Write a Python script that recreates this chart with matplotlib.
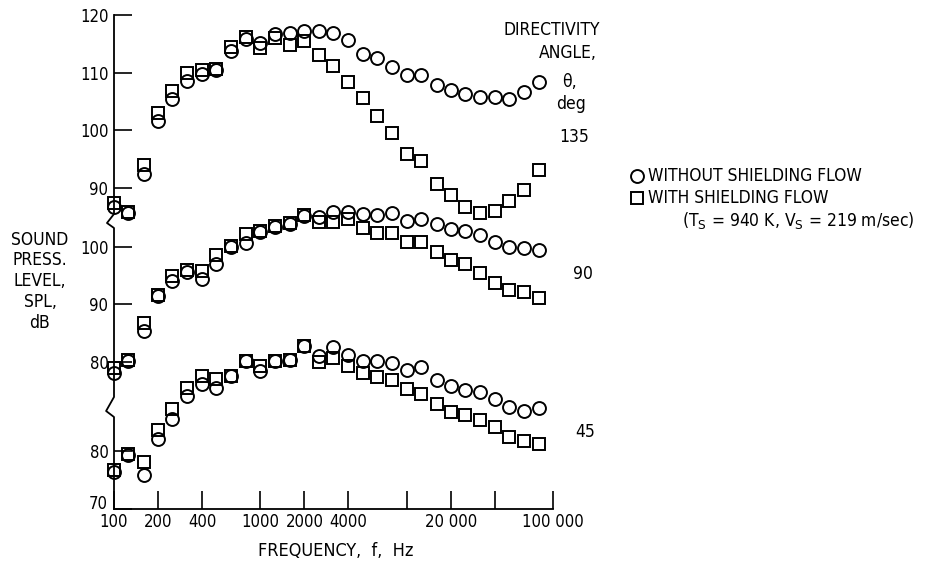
import numpy as np
import matplotlib.pyplot as plt
from matplotlib.lines import Line2D
from matplotlib.ticker import FixedLocator, FixedFormatter, NullLocator
import matplotlib.transforms as mtransforms

# one-third octave band centre frequencies, Hz
freq = [100, 125, 160, 200, 250, 315, 400, 500, 630, 800, 1000, 1250, 1600,
        2000, 2500, 3150, 4000, 5000, 6300, 8000, 10000, 12500, 16000, 20000,
        25000, 31500, 40000, 50000, 63000, 80000]

# SPL, dB, directivity angle 135 deg
spl135_without = [86.7, 85.5, 92.4, 101.5, 105.4, 108.6, 109.8, 110.5, 113.7, 115.9,
                  115.2, 116.7, 116.8, 117.3, 117.3, 116.8, 115.7, 113.3, 112.5, 110.9,
                  109.6, 109.6, 107.9, 107.0, 106.2, 105.7, 105.7, 105.4, 106.6, 108.3]
spl135_with = [87.3, 85.8, 93.9, 102.9, 106.8, 109.9, 110.4, 110.7, 114.4, 116.1,
               114.3, 116.0, 114.8, 115.5, 113.1, 111.2, 108.3, 105.5, 102.5, 99.5,
               95.9, 94.7, 90.6, 88.7, 86.7, 85.5, 86.0, 87.7, 89.6, 93.0]

# 90 deg
spl90_without = [78.1, 80.1, 85.3, 91.5, 94.1, 95.7, 94.5, 97.1, 100.0, 100.7,
                 102.6, 103.5, 104.0, 105.3, 105.2, 106.1, 106.1, 105.7, 105.5, 105.9,
                 104.5, 104.8, 103.9, 103.1, 102.7, 102.1, 100.8, 100.0, 99.8, 99.5]
spl90_with = [79.0, 80.3, 86.7, 91.7, 95.0, 95.9, 95.8, 98.5, 100.2, 102.3,
              102.8, 103.7, 104.2, 105.5, 104.3, 104.4, 104.8, 103.3, 102.4, 102.4,
              100.8, 100.9, 99.1, 97.7, 97.1, 95.5, 93.7, 92.5, 92.1, 91.1]

# 45 deg
spl45_without = [76.5, 79.4, 75.9, 82.2, 85.7, 89.6, 91.7, 91.0, 93.2, 95.7,
                 93.9, 95.7, 95.9, 98.3, 96.6, 98.2, 96.8, 95.7, 95.8, 95.3,
                 94.1, 94.7, 92.5, 91.4, 90.6, 90.3, 89.1, 87.7, 87.0, 87.5]
spl45_with = [76.7, 79.6, 78.2, 83.7, 87.4, 91.1, 93.2, 92.6, 93.2, 95.7,
              94.8, 95.7, 95.9, 98.3, 95.6, 96.2, 94.8, 93.7, 93.0, 92.5,
              90.9, 90.0, 88.2, 86.8, 86.3, 85.5, 84.3, 82.5, 81.9, 81.3]

# vertical shift of each curve on the shared (broken) axis
offsets = {135: 0.0, 90: -20.3, 45: -35.86}

xticks = [100, 200, 400, 1000, 2000, 4000, 10000, 20000, 40000, 100000]
xticklabels = ['100', '200', '400', '1000', '2000', '4000', '', '20 000', '', '100 000']

ytick_groups = [(135, [120, 110, 100, 90]), (90, [100, 90, 80]), (45, [80, 70])]

W, H = 929, 567
FONT = dict(family='DejaVu Sans', stretch='condensed')


def fx(px):
    return px / W


def fy(py):
    return 1 - py / H


fig = plt.figure(figsize=(W / 100, H / 100), dpi=100)
ax = fig.add_axes([fx(114), fy(509), 439 / W, 494 / H])

ms_c, ms_s, mew = 9.3, 8.6, 1.4
series = [(135, spl135_without, spl135_with),
          (90, spl90_without, spl90_with),
          (45, spl45_without, spl45_with)]
for ang, wo, wi in series:
    off = offsets[ang]
    ax.plot(freq, np.array(wo) + off, ls='none', marker='o', ms=ms_c, mfc='none',
            mec='k', mew=mew, clip_on=False, zorder=3)
    ax.plot(freq, np.array(wi) + off, ls='none', marker='s', ms=ms_s, mfc='none',
            mec='k', mew=mew, clip_on=False, zorder=3)

ax.set_xscale('log')
ax.set_xlim(100, 100000)
ax.set_ylim(70 + offsets[45], 120)

ax.xaxis.set_major_locator(FixedLocator(xticks))
ax.xaxis.set_major_formatter(FixedFormatter(xticklabels))
ax.xaxis.set_minor_locator(NullLocator())

# the bottom "70" is written separately, a little raised, so it clears the "100"
ypos, ylab = [], []
for ang, vals in ytick_groups:
    for v in vals:
        ypos.append(v + offsets[ang])
        ylab.append(str(v) if not (ang == 45 and v == 70) else '')
ax.set_yticks(ypos)
ax.set_yticklabels(ylab)

ax.tick_params(axis='both', direction='in', length=13, width=1.2, color='k')
ax.tick_params(axis='y', pad=4)
ax.tick_params(axis='x', pad=3)
for lab in ax.get_xticklabels() + ax.get_yticklabels():
    lab.set_fontfamily('DejaVu Sans')
    lab.set_fontstretch('condensed')
    lab.set_fontsize(12)

for s in ['top', 'right', 'left']:
    ax.spines[s].set_visible(False)
ax.spines['bottom'].set_linewidth(1.3)

trans = mtransforms.blended_transform_factory(ax.transAxes, ax.transData)
ax.annotate('70', xy=(0, 70 + offsets[45]), xycoords=trans, xytext=(-6, 5),
            textcoords='offset pixels', ha='right', va='center', fontsize=12, **FONT)


# left axis line with the two break marks
def py2data(py):
    return 120 - (py - 15) / (494 / (120 - 70 - offsets[45]))


zx = [0, 0, -0.016, 0, 0, -0.018, 0, 0]
zy = [120, py2data(214), py2data(223), py2data(228),
      py2data(397), py2data(411), py2data(417), 70 + offsets[45]]
ax.plot(zx, zy, color='k', lw=1.3, transform=trans, clip_on=False, zorder=2)

# y label
for txt, yy in [('SOUND', 240), ('PRESS.', 260), ('LEVEL,', 281), ('SPL,', 302), ('dB', 323)]:
    fig.text(fx(40), fy(yy), txt, ha='center', va='center', fontsize=12.5, **FONT)

# x label
fig.text(fx(336), fy(551), 'FREQUENCY,  f,  Hz', ha='center', va='center',
         fontsize=13, **FONT)

# directivity angle block
fig.text(fx(600), fy(35), 'DIRECTIVITY', ha='right', va='baseline', fontsize=12.5, **FONT)
fig.text(fx(568), fy(58), 'ANGLE,', ha='center', va='baseline', fontsize=12.5, **FONT)
fig.text(fx(569), fy(87), '\u03b8,', ha='center', va='baseline', fontsize=12.5, **FONT)
fig.text(fx(571), fy(109), 'deg', ha='center', va='baseline', fontsize=12.5, **FONT)
fig.text(fx(574), fy(142), '135', ha='center', va='baseline', fontsize=12.5, **FONT)
fig.text(fx(583), fy(279), '90', ha='center', va='baseline', fontsize=12.5, **FONT)
fig.text(fx(585), fy(437), '45', ha='center', va='baseline', fontsize=12.5, **FONT)

# key
fig.add_artist(Line2D([fx(637)], [fy(176)], ls='none', marker='o', ms=ms_c, mfc='none',
                      mec='k', mew=mew, transform=fig.transFigure))
fig.add_artist(Line2D([fx(637)], [fy(198)], ls='none', marker='s', ms=ms_s, mfc='none',
                      mec='k', mew=mew, transform=fig.transFigure))
fig.text(fx(648), fy(176), 'WITHOUT SHIELDING FLOW', ha='left', va='center', fontsize=12.5, **FONT)
fig.text(fx(648), fy(198), 'WITH SHIELDING FLOW', ha='left', va='center', fontsize=12.5, **FONT)
fig.text(fx(682), fy(221), r'(T$_\mathrm{S}$ = 940 K, V$_\mathrm{S}$ = 219 m/sec)',
         ha='left', va='center', fontsize=12.5, **FONT)

fig.savefig('out.png', dpi=100)
